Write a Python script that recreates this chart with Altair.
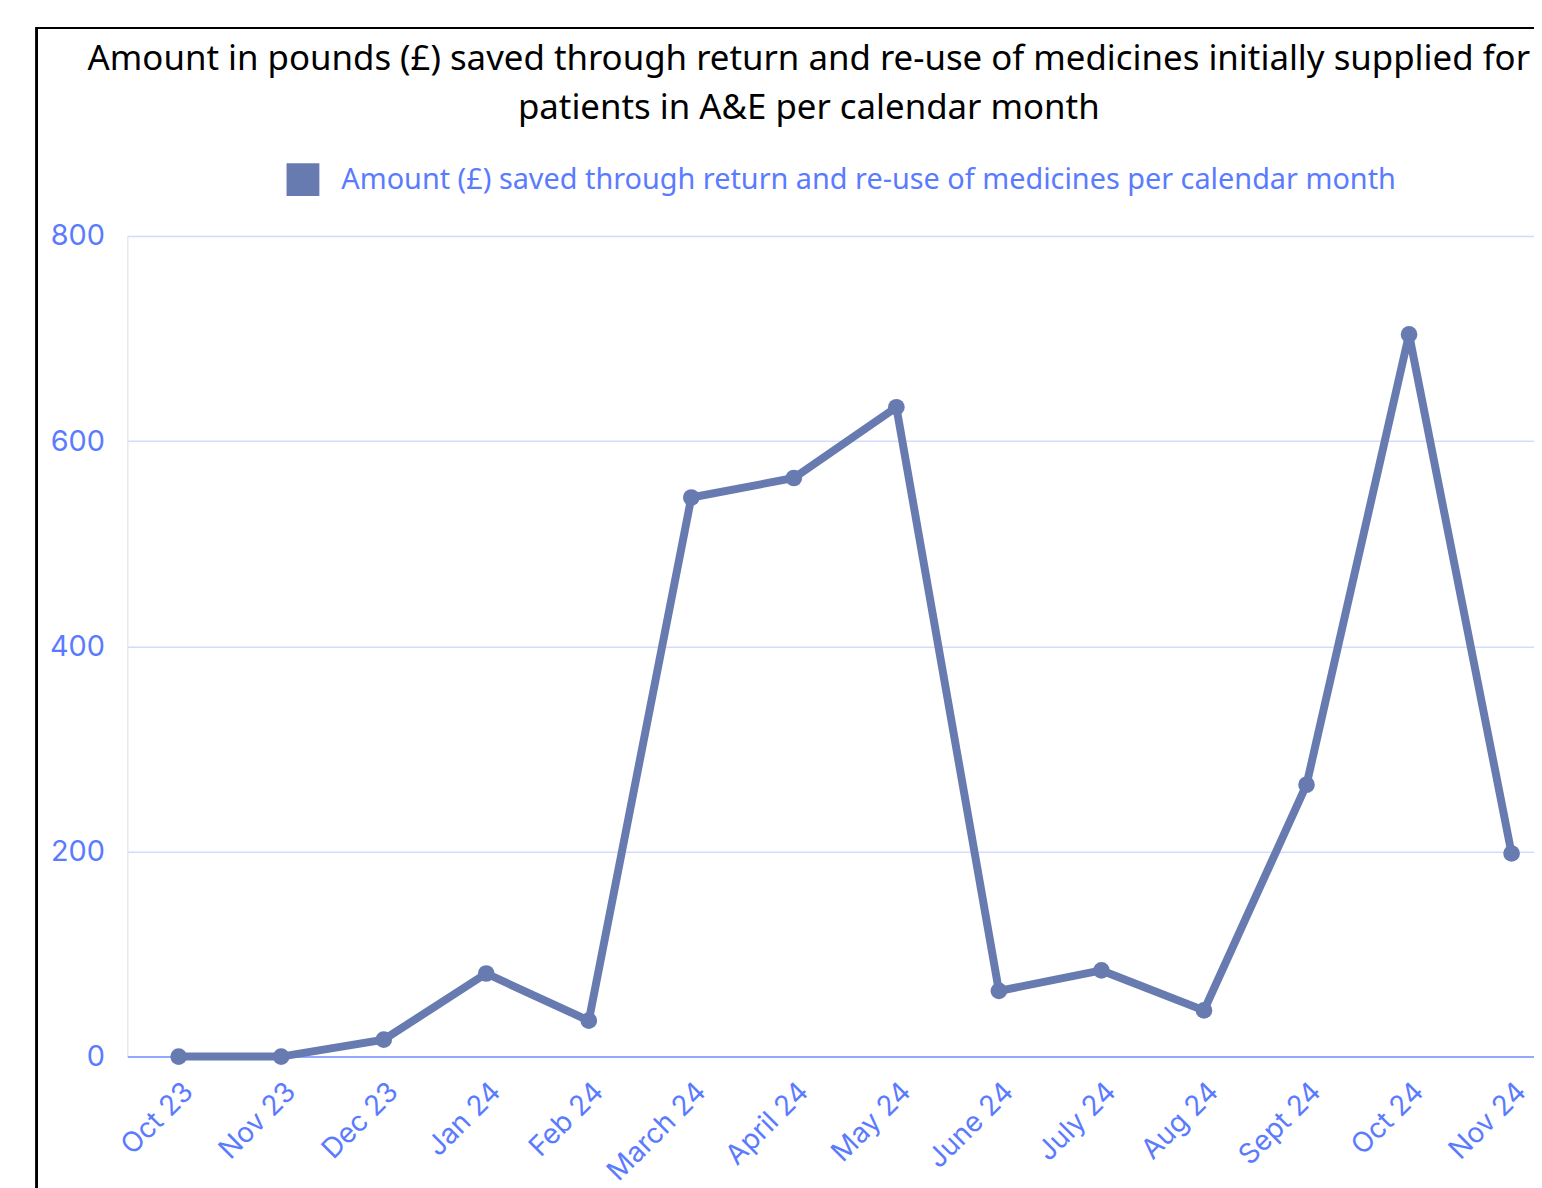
import altair as alt
import pandas as pd

months = ["Oct 23", "Nov 23", "Dec 23", "Jan 24", "Feb 24", "March 24", "April 24",
          "May 24", "June 24", "July 24", "Aug 24", "Sept 24", "Oct 24", "Nov 24"]
amounts = [0, 0, 16.5, 81, 35, 545, 564, 633, 64, 84, 45, 265, 704, 198]
series_name = "Amount (£) saved through return and re-use of medicines per calendar month"
title_lines = ["Amount in pounds (£) saved through return and re-use of medicines initially supplied for",
               "patients in A&E per calendar month"]
y_ticks = [0, 200, 400, 600, 800]

df = pd.DataFrame({"month": months, "amount": amounts, "series": series_name})

LINE = "#687bb1"
BLUE = "#5b7bff"
FONT = "Noto Sans"
AXFONT = "Inter"

W = 1414
H = 825

x_enc = alt.X("month:N", sort=months, title=None,
              scale=alt.Scale(type="point", range=[0, 1443], padding=0.5),
              axis=alt.Axis(labelAngle=-45, labelAlign="right", labelBaseline="middle",
                            labelFontSize=28, labelColor=BLUE, labelFont=AXFONT,
                            labelPadding=31, labelOffset=10, ticks=False, domain=True,
                            domainColor="#93a8ff", domainWidth=2, grid=False))
y_enc = alt.Y("amount:Q", title=None,
              scale=alt.Scale(domain=[0, 800], nice=False),
              axis=alt.Axis(values=y_ticks, labelFontSize=29, labelColor=BLUE, labelFont=AXFONT,
                            labelPadding=23, ticks=False, domain=False,
                            gridColor="#d3dcff", gridWidth=1.5))
color_enc = alt.Color("series:N", title=None,
                      scale=alt.Scale(range=[LINE]),
                      legend=alt.Legend(orient="none", legendX=160, legendY=-73,
                                        symbolType="square", symbolSize=1089,
                                        symbolFillColor=LINE, symbolStrokeWidth=0,
                                        labelFontSize=29, labelColor=BLUE, labelFont=FONT,
                                        labelLimit=2000, labelOffset=22))

line = alt.Chart(df).mark_line(strokeWidth=8, point=alt.OverlayMarkDef(size=280, filled=True, color=LINE)).encode(
    x=x_enc, y=y_enc, color=color_enc
)

frame = alt.Chart(df).mark_rect(fill=None, stroke="black", strokeWidth=2, clip=False).encode(
    x=alt.value(-91), x2=alt.value(1500), y=alt.value(-209), y2=alt.value(980)
)

chart = alt.layer(frame, line).properties(
    width=W, height=H,
    title=alt.TitleParams(text=title_lines, anchor="middle", frame="group", dx=-22,
                          fontSize=35, font=FONT, fontWeight="normal", color="black",
                          lineHeight=49, offset=-99),
    padding={"left": 120, "top": 226, "right": 0, "bottom": 129},
    autosize=alt.AutoSizeParams(type="none"),
).configure_view(stroke=None).configure(background="white")

chart.save("out.html", embed_options={"renderer": "svg", "actions": False})
